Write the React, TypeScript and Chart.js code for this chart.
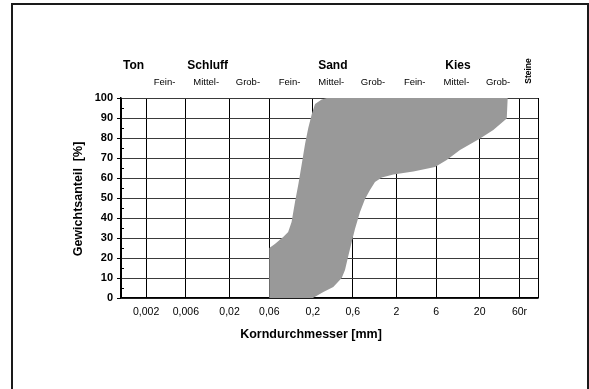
import { useEffect, useRef } from 'react';
import { Chart, registerables } from 'chart.js';

Chart.register(...registerables);

// Grain size class boundaries [mm] (x axis, logarithmic)
const boundaries = [0.001, 0.002, 0.006, 0.02, 0.06, 0.2, 0.6, 2, 6, 20, 60, 100];
const tickLabels = ['', '0,002', '0,006', '0,02', '0,06', '0,2', '0,6', '2', '6', '20', '60r', ''];
// sub-fraction labels for intervals 1..9
const fractionLabels = ['Fein-', 'Mittel-', 'Grob-', 'Fein-', 'Mittel-', 'Grob-', 'Fein-', 'Mittel-', 'Grob-'];
const soilGroups = ['Ton', 'Schluff', 'Sand', 'Kies'];
const soilGroupInterval = [0, 2, 5, 8];
const stonesLabel = 'Steine';
const stonesInterval = 10;

// Fine-side boundary of the grading band (bottom -> top)
const fineX = [0.06, 0.06, 0.07, 0.088, 0.101, 0.111, 0.122, 0.134, 0.147, 0.161, 0.176, 0.194, 0.212, 0.255, 0.293];
const fineY = [0, 25, 27, 30.5, 33, 38, 48, 57, 67, 77, 85, 92, 97, 99.3, 100];

// Coarse-side boundary of the grading band (bottom -> top)
const coarseX = [0.2, 0.267, 0.351, 0.443, 0.485, 0.531, 0.584, 0.639, 0.734, 0.843, 0.967, 1.11, 1.34, 1.84, 3.2, 5.82, 8.04, 11.6, 20.2, 29.1, 42.2, 43.3];
const coarseY = [0, 3, 5.5, 10, 14, 21, 28, 34.5, 43, 49.5, 54, 58, 60.3, 61.7, 63.3, 65.5, 69, 74, 79.7, 84, 89.7, 100];

const yTitle = 'Gewichtsanteil  [%]';
const xTitle = 'Korndurchmesser [mm]';

const FONT = "'Liberation Sans', Arial, Helvetica, sans-serif";

const labelsPlugin = {
  id: 'soilLabels',
  afterDraw(chart: any) {
    const { ctx, chartArea } = chart;
    const xs = chart.scales.x;
    const ys = chart.scales.y;
    const mid = (i: number) => xs.getPixelForValue(Math.sqrt(boundaries[i] * boundaries[i + 1]));
    ctx.save();
    ctx.fillStyle = '#000';
    ctx.textAlign = 'center';
    ctx.textBaseline = 'middle';

    ctx.font = `9.5px ${FONT}`;
    fractionLabels.forEach((t, k) => {
      ctx.fillText(t, mid(k + 1) - 1.5, chartArea.top - 16);
    });

    ctx.font = `bold 12px ${FONT}`;
    soilGroups.forEach((t, k) => {
      ctx.fillText(t, mid(soilGroupInterval[k]), chartArea.top - 32);
    });

    ctx.save();
    ctx.font = `bold 8.5px ${FONT}`;
    ctx.translate(mid(stonesInterval), chartArea.top - 27);
    ctx.rotate(-Math.PI / 2);
    ctx.fillText(stonesLabel, 0, 0);
    ctx.restore();

    // axis titles
    ctx.font = `bold 12.5px ${FONT}`;
    ctx.fillText(xTitle, xs.getPixelForValue(0.19), chartArea.bottom + 37);
    ctx.save();
    ctx.translate(chartArea.left - 42, (chartArea.top + chartArea.bottom) / 2 + 1);
    ctx.rotate(-Math.PI / 2);
    ctx.fillText(yTitle, 0, 0);
    ctx.restore();

    // minor ticks on y axis (inside)
    ctx.strokeStyle = '#000';
    ctx.lineWidth = 1;
    for (let v = 5; v < 100; v += 10) {
      const py = Math.round(ys.getPixelForValue(v)) + 0.5;
      ctx.beginPath();
      ctx.moveTo(chartArea.left, py);
      ctx.lineTo(chartArea.left + 3, py);
      ctx.stroke();
    }
    ctx.restore();
  },
};

export default function App() {
  const ref = useRef<HTMLCanvasElement>(null);

  useEffect(() => {
    if (!ref.current) return;
    const polygon = [
      ...fineX.map((x, i) => ({ x, y: fineY[i] })),
      ...coarseX.map((x, i) => ({ x, y: coarseY[i] })).reverse(),
    ];
    const chart = new Chart(ref.current, {
      type: 'line',
      data: {
        datasets: [
          {
            label: 'Körnungsband',
            data: polygon,
            fill: 'shape',
            backgroundColor: '#999999',
            borderColor: 'rgba(0,0,0,0)',
            borderWidth: 0,
            pointRadius: 0,
            tension: 0,
          } as any,
        ],
      },
      options: {
        animation: false,
        responsive: false,
        devicePixelRatio: 1,
        layout: { padding: { top: 98, right: 51, left: 0, bottom: 0 } },
        plugins: {
          legend: { display: false },
          tooltip: { enabled: false },
          title: { display: false },
        },
        scales: {
          x: {
            type: 'logarithmic',
            min: 0.001,
            max: 100,
            z: 1,
            afterBuildTicks: (scale: any) => {
              scale.ticks = boundaries.map((v) => ({ value: v }));
            },
            afterFit: (scale: any) => {
              scale.height = 91;
            },
            grid: { color: '#000', lineWidth: 1, drawTicks: false },
            border: { display: true, color: '#000', width: 1.5 },
            ticks: {
              autoSkip: false,
              maxRotation: 0,
              padding: 8,
              color: '#000',
              font: { family: FONT, size: 10.5 },
              callback: (_v: any, i: number) => tickLabels[i],
            },
          },
          y: {
            type: 'linear',
            min: 0,
            max: 100,
            z: 1,
            afterFit: (scale: any) => {
              scale.width = 121;
            },
            grid: { color: '#3a3a3a', lineWidth: 1, tickColor: '#000', tickLength: 4 },
            border: { display: true, color: '#000', width: 1.5 },
            ticks: {
              stepSize: 10,
              padding: 4,
              color: '#000',
              font: { family: FONT, size: 11, weight: 'bold' },
            },
          },
        },
      },
      plugins: [labelsPlugin],
    });
    return () => chart.destroy();
  }, []);

  return (
    <div style={{ position: 'fixed', left: 0, top: 0, width: 589, height: 389, background: '#fff', overflow: 'hidden' }}>
      <div
        style={{
          position: 'absolute',
          left: 11,
          top: 3,
          width: 578,
          height: 420,
          border: '2px solid #1a1a1a',
          boxSizing: 'border-box',
        }}
      />
      <canvas ref={ref} width={589} height={389} style={{ position: 'absolute', left: 0, top: 0, width: 589, height: 389 }} />
    </div>
  );
}
